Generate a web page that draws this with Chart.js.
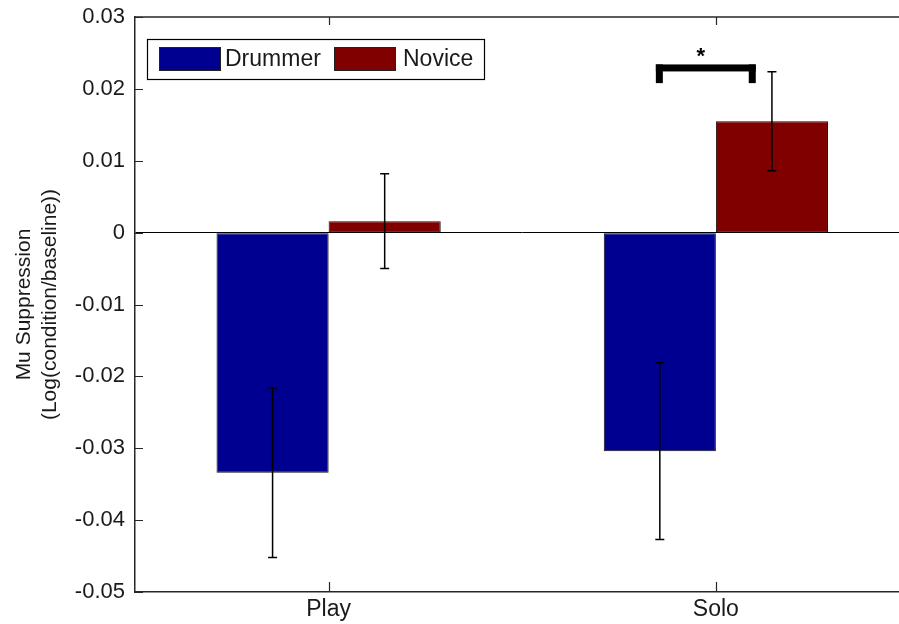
<!DOCTYPE html>
<html>
<head>
<meta charset="utf-8">
<script src="https://cdn.jsdelivr.net/npm/chart.js@4.4.1/dist/chart.umd.min.js"></script>
<style>
    html, body { margin: 0; padding: 0; background: #fff; overflow: hidden; }
    #wrap { width: 920px; height: 624px; }
</style>
</head>
<body>
<div id="wrap"><canvas id="grafico" width="920" height="624"></canvas></div>
<script>
// Datos
const categorias = ['Play', 'Solo'];
const drummer = [-0.0334, -0.0304];
const novice = [0.0016, 0.0155];
const drummerErr = [0.0118, 0.0123];
const noviceErr = [0.0066, 0.0069];
const yTicks = [0.03, 0.02, 0.01, 0, -0.01, -0.02, -0.03, -0.04, -0.05];

// Corchete de significancia (en unidades de categoría / valor)
const bracketX = [0.845, 1.103];
const bracketY = 0.0234;
const bracketLeg = 0.0026;

const FUENTE = '"Liberation Sans", Arial, sans-serif';
const EJE = '#262626';
const TEXTO = '#1a1a1a';

const errores = [drummerErr, noviceErr];

const pluginMatlab = {
    id: 'pluginMatlab',
    afterDatasetsDraw(chart) {
        const ctx = chart.ctx;
        const y = chart.scales.y;
        const x = chart.scales.x;
        const area = chart.chartArea;
        ctx.save();

        // barras de error
        ctx.strokeStyle = '#000';
        ctx.lineWidth = 1.5;
        chart.data.datasets.forEach((ds, di) => {
            const meta = chart.getDatasetMeta(di);
            meta.data.forEach((bar, i) => {
                const v = ds.data[i];
                const e = errores[di][i];
                const yt = y.getPixelForValue(v + e);
                const yb = y.getPixelForValue(v - e);
                ctx.beginPath();
                ctx.moveTo(bar.x, yt); ctx.lineTo(bar.x, yb);
                ctx.moveTo(bar.x - 4.5, yt); ctx.lineTo(bar.x + 4.5, yt);
                ctx.moveTo(bar.x - 4.5, yb); ctx.lineTo(bar.x + 4.5, yb);
                ctx.stroke();
            });
        });

        // marco superior
        ctx.strokeStyle = EJE;
        ctx.lineWidth = 1.5;
        ctx.beginPath();
        ctx.moveTo(area.left, area.top);
        ctx.lineTo(area.right, area.top);
        ctx.stroke();

        // ticks hacia adentro
        ctx.lineWidth = 1.2;
        ctx.beginPath();
        yTicks.forEach(t => {
            const py = Math.round(y.getPixelForValue(t)) + 0.5;
            ctx.moveTo(area.left, py); ctx.lineTo(area.left + 8, py);
            ctx.moveTo(area.right, py); ctx.lineTo(area.right - 8, py);
        });
        categorias.forEach((c, i) => {
            const px = Math.round(x.getPixelForValue(i)) + 0.5;
            ctx.moveTo(px, area.bottom); ctx.lineTo(px, area.bottom - 10);
            ctx.moveTo(px, area.top); ctx.lineTo(px, area.top + 8);
        });
        ctx.stroke();

        // corchete y asterisco
        const x1 = x.getPixelForValue(bracketX[0]);
        const x2 = x.getPixelForValue(bracketX[1]);
        const yTop = y.getPixelForValue(bracketY);
        const yLeg = y.getPixelForValue(bracketY - bracketLeg);
        ctx.fillStyle = '#000';
        ctx.fillRect(x1, yTop, x2 - x1, 7);
        ctx.fillRect(x1, yTop, 7, yLeg - yTop);
        ctx.fillRect(x2 - 7, yTop, 7, yLeg - yTop);
        ctx.font = 'bold 22px ' + FUENTE;
        ctx.textAlign = 'center';
        ctx.textBaseline = 'middle';
        ctx.fillText('*', (x1 + x2) / 2 - 5, yTop - 8);

        // leyenda
        const lx = 147, ly = 39, lw = 337, lh = 40;
        ctx.fillStyle = '#fff';
        ctx.fillRect(lx, ly, lw, lh);
        ctx.strokeStyle = '#000';
        ctx.lineWidth = 1.2;
        ctx.strokeRect(lx + 0.5, ly + 0.5, lw, lh);
        const items = [
            { sx: 159, tx: 225 },
            { sx: 334, tx: 403 }
        ];
        ctx.font = '23px ' + FUENTE;
        ctx.textAlign = 'left';
        ctx.textBaseline = 'middle';
        chart.data.datasets.forEach((ds, di) => {
            const it = items[di];
            ctx.fillStyle = ds.backgroundColor;
            ctx.fillRect(it.sx, 47, 61, 23);
            ctx.strokeStyle = '#222';
            ctx.lineWidth = 1;
            ctx.strokeRect(it.sx + 0.5, 47.5, 61, 23);
            ctx.fillStyle = TEXTO;
            ctx.fillText(ds.label, it.tx, 60);
        });

        ctx.restore();
    }
};

const graficoBarras = () => {
    const ctx = document.getElementById('grafico').getContext('2d');
    new Chart(ctx, {
        type: 'bar',
        data: {
            labels: categorias,
            datasets: [
                {
                    label: 'Drummer',
                    data: drummer,
                    backgroundColor: '#000090',
                    borderColor: '#111',
                    borderWidth: 1,
                    borderSkipped: false
                },
                {
                    label: 'Novice',
                    data: novice,
                    backgroundColor: '#800000',
                    borderColor: '#111',
                    borderWidth: 1,
                    borderSkipped: false
                }
            ]
        },
        options: {
            responsive: false,
            animation: false,
            categoryPercentage: 0.579,
            barPercentage: 1,
            layout: {
                padding: { top: 17, right: 10.5, left: 0, bottom: 0 }
            },
            scales: {
                x: {
                    offset: true,
                    grid: { display: false, drawTicks: false },
                    border: { display: true, color: EJE, width: 1.5 },
                    ticks: {
                        color: TEXTO,
                        padding: 4,
                        font: { family: FUENTE, size: 23 }
                    },
                    afterFit: (scale) => { scale.height = 32; }
                },
                y: {
                    min: -0.05,
                    max: 0.03,
                    afterBuildTicks: (scale) => {
                        scale.ticks = yTicks.map(v => ({ value: v }));
                    },
                    grid: {
                        drawTicks: false,
                        color: (c) => (c.tick && c.tick.value === 0 ? '#000' : 'rgba(0,0,0,0)'),
                        lineWidth: 1
                    },
                    border: { display: true, color: EJE, width: 1.5 },
                    ticks: {
                        color: TEXTO,
                        padding: 10,
                        font: { family: FUENTE, size: 22 },
                        callback: function (value) {
                            return value === 0 ? '0' : Number(value).toFixed(2);
                        }
                    },
                    title: {
                        display: true,
                        text: ['Mu Suppression', '(Log(condition/baseline))'],
                        color: TEXTO,
                        font: { family: FUENTE, size: 21, lineHeight: 1.24 },
                        padding: { top: 11, bottom: 0 }
                    },
                    afterFit: (scale) => {
                        scale.width = 135;
                        scale.paddingTop = 0;
                        scale.paddingBottom = 0;
                    }
                }
            },
            plugins: {
                legend: { display: false },
                tooltip: { enabled: false }
            }
        },
        plugins: [pluginMatlab]
    });
};

graficoBarras();
</script>
</body>
</html>
